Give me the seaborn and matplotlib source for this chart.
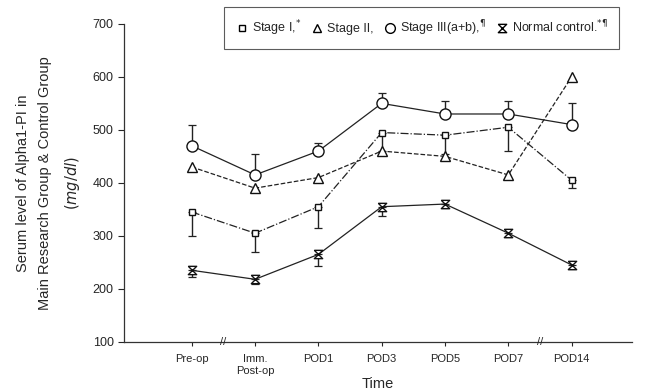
import numpy as np
import pandas as pd
import matplotlib.pyplot as plt
import seaborn as sns
from matplotlib.lines import Line2D
from matplotlib.path import Path

# 时间点
time_labels = ["Pre-op", "Imm.\nPost-op", "POD1", "POD3", "POD5", "POD7", "POD14"]

# 各组均值 (mg/dl)
stage1 = [345, 305, 355, 495, 490, 505, 405]
stage2 = [430, 390, 410, 460, 450, 415, 600]
stage3 = [470, 415, 460, 550, 530, 530, 510]
control = [235, 218, 265, 355, 360, 305, 245]

# 误差棒 (单侧)
stage1_err_down = [45, 35, 40, 35, 35, 45, 15]
stage3_err_up = [40, 40, 15, 20, 25, 25, 40]
control_err_down = [12, 8, 22, 18, 8, 8, 8]

sns.set_style("white")
plt.rcParams['font.family'] = ['Liberation Sans', 'DejaVu Sans']

# 沙漏形标记
hourglass = Path([(-1, 1), (1, 1), (-1, -1), (1, -1), (-1, 1)],
                 [Path.MOVETO, Path.LINETO, Path.LINETO, Path.LINETO, Path.LINETO])

fig = plt.figure(figsize=(6.46, 3.92), dpi=100)
ax = fig.add_axes([0.192, 0.128, 0.786, 0.811])

x = np.arange(len(time_labels))
line_kw = dict(color='#222222', linewidth=0.9, markerfacecolor='white',
               markeredgecolor='#111111', markeredgewidth=1.0)

# 误差棒
ax.errorbar(x, stage3, yerr=[np.zeros(7), stage3_err_up], fmt='none',
            ecolor='#222222', elinewidth=1.0, capsize=3, capthick=0.9)
ax.errorbar(x, stage1, yerr=[stage1_err_down, np.zeros(7)], fmt='none',
            ecolor='#222222', elinewidth=1.0, capsize=3, capthick=0.9)
ax.errorbar(x, control, yerr=[control_err_down, np.zeros(7)], fmt='none',
            ecolor='#222222', elinewidth=1.0, capsize=3, capthick=0.9)

sns.lineplot(x=x, y=stage1, marker='s', markersize=5, linestyle='-.', ax=ax, **line_kw)
sns.lineplot(x=x, y=stage2, marker='^', markersize=6.5, linestyle='--', ax=ax, **line_kw)
sns.lineplot(x=x, y=stage3, marker='o', markersize=8, linestyle='-', ax=ax, **line_kw)
sns.lineplot(x=x, y=control, marker=hourglass, markersize=6, linestyle='-', ax=ax, **line_kw)

ax.set_xlim(-1.07, 6.95)
ax.set_ylim(100, 700)
ax.set_yticks(range(100, 701, 100))
ax.set_xticks(x)
ax.set_xticklabels(time_labels, fontsize=8)
ax.tick_params(axis='y', labelsize=9, length=4, width=0.8, direction='out', left=True)
ax.tick_params(axis='x', length=3, width=0.8, direction='out', bottom=True, pad=6)

sns.despine(ax=ax)
for sp in ['left', 'bottom']:
    ax.spines[sp].set_color('#333333')
    ax.spines[sp].set_linewidth(0.9)

# 轴断裂标记
for xb in [0.5, 5.5]:
    ax.text(xb, 100, '//', ha='center', va='center', fontsize=8,
            transform=ax.transData, clip_on=False)

ax.set_xlabel('Time', fontsize=10.5, labelpad=1)
ax.set_ylabel('Serum level of Alpha1-PI in\nMain Research Group & Control Group\n'
              r'$\mathit{(mg/dl)}$', fontsize=10.5, labelpad=8, linespacing=1.75)

handles = [
    Line2D([], [], linestyle='none', marker='s', markersize=5, markerfacecolor='white', markeredgecolor='black'),
    Line2D([], [], linestyle='none', marker='^', markersize=6, markerfacecolor='white', markeredgecolor='black'),
    Line2D([], [], linestyle='none', marker='o', markersize=7, markerfacecolor='white', markeredgecolor='black'),
    Line2D([], [], linestyle='none', marker=hourglass, markersize=6, markerfacecolor='white', markeredgecolor='black'),
]
labels = [r'Stage I,$^{*}$', 'Stage II,', 'Stage III(a+b),$^{¶}$', 'Normal control.$^{*¶}$']
leg = fig.legend(handles, labels, loc='upper right', bbox_to_anchor=(0.968, 0.998),
                 ncol=4, fontsize=9, frameon=True, fancybox=False, handletextpad=0.3,
                 columnspacing=0.8, handlelength=1.0, borderpad=0.9)
leg.get_frame().set_edgecolor('#333333')
leg.get_frame().set_linewidth(0.8)

fig.savefig('out.png', dpi=100)
